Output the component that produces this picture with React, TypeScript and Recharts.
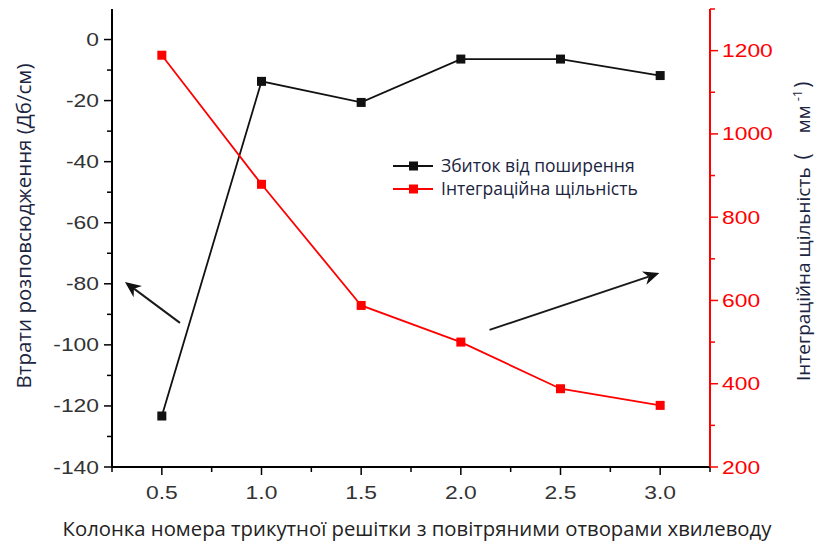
import { LineChart, Line, XAxis, YAxis, ReferenceLine } from 'recharts'

// column number of the triangular lattice
const columns = [0.5, 1.0, 1.5, 2.0, 2.5, 3.0]
// propagation loss, dB/cm (left axis)
const loss = [-123.3, -13.7, -20.6, -6.4, -6.4, -11.8]
// integration density, mm^-1 (right axis)
const density = [1189, 879, 588, 500, 388, 348]

const xTicks = [0.25, 0.5, 0.75, 1.0, 1.25, 1.5, 1.75, 2.0, 2.25, 2.5, 2.75, 3.0, 3.25]
const lossTicks = [-140, -130, -120, -110, -100, -90, -80, -70, -60, -50, -40, -30, -20, -10, 0]
const densityTicks = [200, 300, 400, 500, 600, 700, 800, 900, 1000, 1100, 1200, 1300]

const lossName = 'Збиток від поширення'
const densityName = 'Інтеграційна щільність'

const data = columns.map((c, i) => ({ c, loss: loss[i], density: density[i] }))

const NUM_FONT = '"Liberation Sans", Arial, sans-serif'
const TEXT_FONT = '"Open Sans", "Noto Sans", sans-serif'
const RED = '#ff0000'
const NUM_SIZE = 18
const STRETCH = 1.27

const isHalf = (v: number) => Math.abs(v * 2 - Math.round(v * 2)) < 1e-6

// tick numbers are drawn a little wide
const Num = ({ x, y, anchor, fill, children }: any) => (
  <text
    transform={`translate(${x},${y}) scale(${STRETCH},1)`}
    textAnchor={anchor}
    fontSize={NUM_SIZE}
    fill={fill}
    fontFamily={NUM_FONT}
  >
    {children}
  </text>
)

const BottomTick = ({ x, y, payload }: any) => {
  const major = isHalf(payload.value)
  return (
    <g>
      <line x1={x} x2={x} y1={y} y2={y + (major ? 8 : 5)} stroke="#000" strokeWidth={1.5} />
      {major && (
        <Num x={x} y={y + 32} anchor="middle" fill="#333">
          {payload.value.toFixed(1)}
        </Num>
      )}
    </g>
  )
}

const TopTick = ({ x, y, payload }: any) => {
  const major = isHalf(payload.value)
  return <line x1={x} x2={x} y1={y} y2={y + (major ? 8 : 5)} stroke={RED} strokeWidth={1.5} />
}

const LeftTick = ({ x, y, payload }: any) => {
  const major = payload.value % 20 === 0
  return (
    <g>
      <line x1={x - (major ? 8 : 5)} x2={x} y1={y} y2={y} stroke="#000" strokeWidth={1.5} />
      {major && (
        <Num x={x - 13} y={y + 6.5} anchor="end" fill="#333">
          {payload.value}
        </Num>
      )}
    </g>
  )
}

const RightTick = ({ x, y, payload }: any) => {
  const major = payload.value % 200 === 0
  return (
    <g>
      <line x1={x} x2={x + (major ? 8 : 5)} y1={y} y2={y} stroke={RED} strokeWidth={1.5} />
      {major && (
        <Num x={x + 12} y={y + 6.5} anchor="start" fill={RED}>
          {payload.value}
        </Num>
      )}
    </g>
  )
}

const squareDot = (color: string) => (props: any) => {
  const { cx, cy, index } = props
  return <rect key={index} x={cx - 4.5} y={cy - 4.5} width={9} height={9} fill={color} />
}

// straight arrow with a barbed head at (x2, y2)
const Arrow = (p: any) => {
  const { x1, y1, x2, y2 } = p
  const a = Math.atan2(y2 - y1, x2 - x1)
  const cos = Math.cos(a)
  const sin = Math.sin(a)
  const len = 16
  const half = 7
  const bx = x2 - len * cos
  const by = y2 - len * sin
  const nx = x2 - len * 0.7 * cos
  const ny = y2 - len * 0.7 * sin
  const pts = [
    [x2, y2],
    [bx - half * sin, by + half * cos],
    [nx, ny],
    [bx + half * sin, by - half * cos],
  ]
  return (
    <g>
      <line x1={x1} y1={y1} x2={nx} y2={ny} stroke="#1a1a1a" strokeWidth={2} />
      <polygon points={pts.map((q) => q.join(',')).join(' ')} fill="#111" />
    </g>
  )
}

const legendItems = [
  { name: lossName, color: '#111' },
  { name: densityName, color: RED },
]

const LegendBox = () => (
  <div
    style={{
      position: 'absolute',
      left: 393,
      top: 154,
      fontFamily: TEXT_FONT,
      fontSize: 17.5,
      color: '#1b2440',
      lineHeight: '23px',
    }}
  >
    {legendItems.map((s) => (
      <div key={s.name} style={{ display: 'flex', alignItems: 'center' }}>
        <svg width={48} height={12}>
          <line x1={0} x2={40} y1={6} y2={6} stroke={s.color} strokeWidth={2} />
          <rect x={16} y={1.5} width={9} height={9} fill={s.color} />
        </svg>
        <span>{s.name}</span>
      </div>
    ))}
  </div>
)

const LeftTitle = () => (
  <text
    transform="translate(31, 226) rotate(-90)"
    textAnchor="middle"
    fontSize={20.5}
    fill="#1b2440"
    fontFamily={TEXT_FONT}
  >
    Втрати розповсюдження (Дб/см)
  </text>
)

// unit written as ( мм⁻¹ ) with wide gaps
const RightTitle = () => (
  <text
    transform="translate(810, 381) rotate(-90)"
    textAnchor="start"
    fontSize={19}
    fill="#1b2440"
    fontFamily={TEXT_FONT}
  >
    Інтеграційна щільність
    <tspan dx={8} fontSize={21}>(</tspan>
    <tspan dx={20}>мм</tspan>
    <tspan dx={4} dy={-8} fontSize={13}>-1</tspan>
    <tspan dx={2} dy={8} fontSize={21}>)</tspan>
  </text>
)

const BottomTitle = () => (
  <text x={417} y={536} textAnchor="middle" fontSize={20.3} fill="#222" fontFamily={TEXT_FONT}>
    Колонка номера трикутної решітки з повітряними отворами хвилеводу
  </text>
)

export default function App() {
  return (
    <div style={{ position: 'absolute', left: 0, top: 0, width: 819, height: 544, background: '#fff' }}>
      <LineChart width={819} height={544} data={data} margin={{ top: 9, right: 0, bottom: 0, left: 0 }}>
        <XAxis
          xAxisId="b"
          dataKey="c"
          type="number"
          domain={[0.25, 3.25]}
          ticks={xTicks}
          interval={0}
          height={77}
          tickSize={0}
          tickMargin={0}
          tickLine={false}
          tick={<BottomTick />}
          axisLine={{ stroke: '#000', strokeWidth: 2 }}
          label={<BottomTitle />}
        />
        <XAxis
          xAxisId="t"
          orientation="top"
          dataKey="c"
          type="number"
          domain={[0.25, 3.25]}
          ticks={xTicks}
          interval={0}
          height={0}
          tickSize={0}
          tickMargin={0}
          tickLine={false}
          tick={<TopTick />}
          axisLine={{ stroke: RED, strokeWidth: 2 }}
        />
        <YAxis
          yAxisId="left"
          type="number"
          domain={[-140, 10]}
          ticks={lossTicks}
          interval={0}
          width={112}
          tickSize={0}
          tickMargin={0}
          tickLine={false}
          tick={<LeftTick />}
          axisLine={{ stroke: '#000', strokeWidth: 2 }}
          label={<LeftTitle />}
        />
        <YAxis
          yAxisId="right"
          orientation="right"
          type="number"
          domain={[200, 1300]}
          ticks={densityTicks}
          interval={0}
          width={109}
          tickSize={0}
          tickMargin={0}
          tickLine={false}
          tick={<RightTick />}
          axisLine={{ stroke: RED, strokeWidth: 2 }}
          label={<RightTitle />}
        />
        <ReferenceLine
          xAxisId="b"
          yAxisId="left"
          segment={[{ x: 0.591, y: -92.8 }, { x: 0.315, y: -79.4 }]}
          shape={Arrow}
        />
        <ReferenceLine
          xAxisId="b"
          yAxisId="left"
          segment={[{ x: 2.144, y: -95.1 }, { x: 2.996, y: -76.5 }]}
          shape={Arrow}
        />
        <Line
          xAxisId="b"
          yAxisId="left"
          dataKey="loss"
          name={lossName}
          stroke="#111"
          strokeWidth={1.8}
          dot={squareDot('#111')}
          activeDot={false}
          isAnimationActive={false}
        />
        <Line
          xAxisId="b"
          yAxisId="right"
          dataKey="density"
          name={densityName}
          stroke={RED}
          strokeWidth={1.8}
          dot={squareDot(RED)}
          activeDot={false}
          isAnimationActive={false}
        />
      </LineChart>
      <LegendBox />
    </div>
  )
}
